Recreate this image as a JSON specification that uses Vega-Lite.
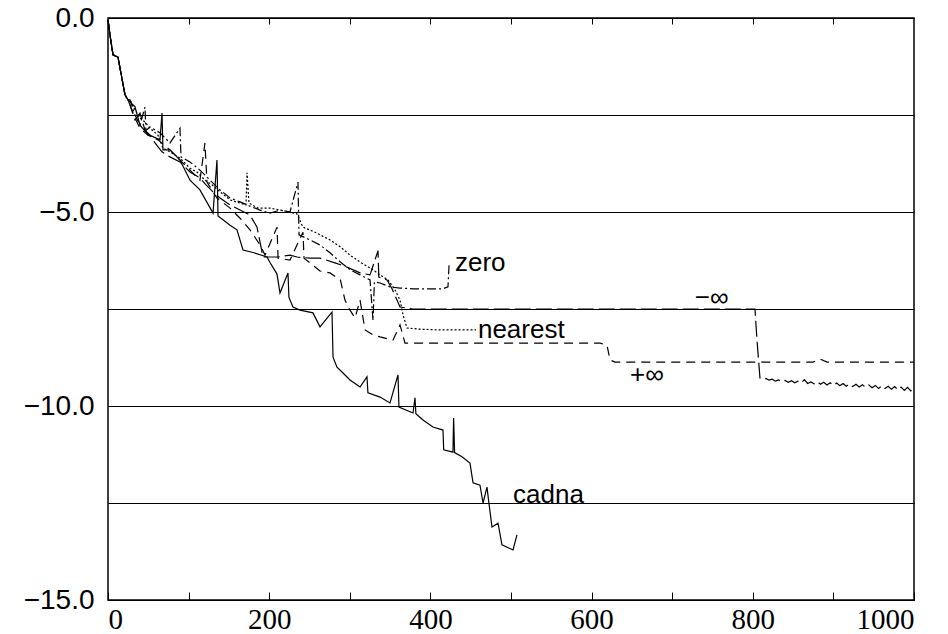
{
  "$schema": "https://vega.github.io/schema/vega-lite/v6.json",
  "autosize": "none",
  "width": 806,
  "height": 582,
  "padding": {"left": 108, "top": 18, "right": 34, "bottom": 34},
  "background": "white",
  "config": {
    "view": {"stroke": "black", "strokeWidth": 1.5},
    "axis": {"labelFont": "Liberation Sans", "labelColor": "black", "tickColor": "black", "tickWidth": 1, "domain": false, "title": null}
  },
  "layer": [
    {
      "data": {"values": [
        {"x":0,"y":-0.05},{"x":2.5,"y":-0.44},{"x":6.2,"y":-0.95},{"x":12.4,"y":-1.01},{"x":21.1,"y":-1.98},{"x":24.8,"y":-2.11},
        {"x":33.5,"y":-2.29},{"x":39.7,"y":-2.76},{"x":49.6,"y":-3.0},{"x":64.5,"y":-3.14},{"x":67,"y":-2.45},{"x":68.2,"y":-3.4},
        {"x":76.9,"y":-3.4},{"x":89.3,"y":-3.66},{"x":101.7,"y":-4.18},{"x":114.1,"y":-4.43},{"x":130.3,"y":-5.03},{"x":135.2,"y":-3.66},
        {"x":136.5,"y":-5.1},{"x":151.4,"y":-5.34},{"x":160,"y":-5.46},{"x":167.5,"y":-5.98},{"x":181.1,"y":-6.05},{"x":197.3,"y":-6.16},
        {"x":201,"y":-6.3},{"x":209.7,"y":-6.6},{"x":213.4,"y":-7.09},{"x":223.3,"y":-6.57},{"x":224.5,"y":-7.2},{"x":229.5,"y":-7.45},
        {"x":238.2,"y":-7.53},{"x":254.3,"y":-7.6},{"x":263,"y":-7.96},{"x":277.9,"y":-7.58},{"x":279.2,"y":-8.74},{"x":284.1,"y":-9.0},
        {"x":291.6,"y":-9.15},{"x":300.2,"y":-9.33},{"x":312.7,"y":-9.51},{"x":321.3,"y":-9.25},{"x":322.5,"y":-9.66},{"x":337.5,"y":-9.77},
        {"x":349.9,"y":-9.92},{"x":359.8,"y":-9.2},{"x":361,"y":-10.03},{"x":378.4,"y":-10.18},{"x":380.9,"y":-9.79},{"x":382,"y":-10.2},
        {"x":390.8,"y":-10.36},{"x":403.2,"y":-10.54},{"x":415.6,"y":-10.62},{"x":416.5,"y":-11.13},{"x":428,"y":-11.19},{"x":428.8,"y":-10.31},
        {"x":430,"y":-11.2},{"x":439.2,"y":-11.31},{"x":449.1,"y":-11.47},{"x":452.9,"y":-11.98},{"x":461.5,"y":-12.04},{"x":465.3,"y":-12.5},
        {"x":470.2,"y":-12.09},{"x":472,"y":-12.4},{"x":476.4,"y":-13.12},{"x":483.9,"y":-13.02},{"x":488.8,"y":-13.58},{"x":502.5,"y":-13.71},
        {"x":507.4,"y":-13.32}
      ]},
      "mark": {"type": "line", "color": "black", "strokeWidth": 1.2},
      "encoding": {
        "x": {"field": "x", "type": "quantitative", "scale": {"domain": [0, 1000], "nice": false},
              "axis": {"orient": "bottom", "values": [0,100,200,300,400,500,600,700,800,900,1000],
                       "labelExpr": "datum.value % 200 === 0 ? format(datum.value, 'd') : ''",
                       "tickSize": -8,
                       "labelPadding": 13, "labelFont": "Liberation Sans Narrow", "labelFontSize": 29, "grid": false}},
        "y": {"field": "y", "type": "quantitative", "scale": {"domain": [-15, 0], "nice": false},
              "axis": {"orient": "left", "values": [-15,-12.5,-10,-7.5,-5,-2.5,0],
                       "labelExpr": "datum.value % 5 === 0 ? format(datum.value, '.1f') : ''",
                       "tickSize": -6, "labelPadding": 20, "labelFontSize": 28,
                       "grid": true, "gridColor": "black", "gridWidth": 1, "gridOpacity": 1}}
      }
    },
    {
      "data": {"values": [
        {"x":0,"y":-0.05},{"x":2.5,"y":-0.44},{"x":6.2,"y":-0.95},{"x":12.4,"y":-1.01},{"x":21.1,"y":-1.98},{"x":24.8,"y":-2.11},
        {"x":27.3,"y":-2.11},{"x":33.5,"y":-2.37},{"x":39.7,"y":-2.58},{"x":45.9,"y":-2.68},{"x":52.1,"y":-2.84},{"x":62,"y":-3.02},
        {"x":68.2,"y":-3.35},{"x":76.9,"y":-3.45},{"x":89.3,"y":-3.61},{"x":101.7,"y":-3.87},{"x":110.4,"y":-3.97},{"x":120.3,"y":-4.18},
        {"x":129,"y":-4.3},{"x":139,"y":-4.48},{"x":151.4,"y":-4.69},{"x":163.8,"y":-4.77},{"x":171.2,"y":-4.82},{"x":172.5,"y":-3.99},
        {"x":174.9,"y":-4.77},{"x":186.1,"y":-4.9},{"x":201,"y":-4.9},{"x":213.4,"y":-4.95},{"x":225.8,"y":-5.0},{"x":234.5,"y":-5.05},
        {"x":241.9,"y":-5.39},{"x":256.8,"y":-5.52},{"x":275.4,"y":-5.72},{"x":288.3,"y":-5.9},{"x":300.2,"y":-6.11},{"x":312.7,"y":-6.29},
        {"x":325.1,"y":-6.44},{"x":337.5,"y":-6.62},{"x":347.4,"y":-6.75},{"x":356.1,"y":-7.01},{"x":362.3,"y":-7.27},{"x":366,"y":-7.65},
        {"x":371,"y":-7.99},{"x":387.1,"y":-8.02},{"x":411.9,"y":-8.04},{"x":436.7,"y":-8.04},{"x":456.6,"y":-8.04}
      ]},
      "mark": {"type": "line", "color": "black", "strokeWidth": 1.2, "strokeDash": [2, 2]},
      "encoding": {"x": {"field": "x", "type": "quantitative", "axis": null}, "y": {"field": "y", "type": "quantitative", "axis": null}}
    },
    {
      "data": {"values": [
        {"x":0,"y":-0.05},{"x":2.5,"y":-0.44},{"x":6.2,"y":-0.95},{"x":12.4,"y":-1.01},{"x":21.1,"y":-1.98},{"x":24.8,"y":-2.11},
        {"x":27.3,"y":-2.11},{"x":33.5,"y":-2.5},{"x":39.7,"y":-2.76},{"x":45.9,"y":-2.3},{"x":47,"y":-2.9},{"x":52.1,"y":-2.81},
        {"x":64.5,"y":-2.96},{"x":76.9,"y":-3.22},{"x":89.3,"y":-2.84},{"x":90.6,"y":-3.58},{"x":101.7,"y":-3.71},{"x":114.1,"y":-3.92},
        {"x":126.6,"y":-4.18},{"x":139,"y":-4.43},{"x":151.4,"y":-4.64},{"x":163.8,"y":-4.74},{"x":176.2,"y":-4.85},{"x":188.6,"y":-4.95},
        {"x":201,"y":-5.03},{"x":213.4,"y":-4.95},{"x":225.8,"y":-5.0},{"x":235.7,"y":-4.23},{"x":237,"y":-5.59},{"x":250.6,"y":-5.72},
        {"x":263,"y":-5.85},{"x":275.4,"y":-6.05},{"x":288.3,"y":-6.29},{"x":300.2,"y":-6.49},{"x":312.7,"y":-6.62},{"x":325.1,"y":-6.75},
        {"x":328.8,"y":-7.8},{"x":330.5,"y":-6.8},{"x":337.5,"y":-6.83},{"x":349.9,"y":-6.93},{"x":362.3,"y":-6.96},{"x":378.4,"y":-6.98},
        {"x":399.5,"y":-6.98},{"x":415.6,"y":-6.98},{"x":421.8,"y":-6.93},{"x":423.1,"y":-6.37}
      ]},
      "mark": {"type": "line", "color": "black", "strokeWidth": 1.2, "strokeDash": [9, 3, 2, 3]},
      "encoding": {"x": {"field": "x", "type": "quantitative", "axis": null}, "y": {"field": "y", "type": "quantitative", "axis": null}}
    },
    {
      "data": {"values": [
        {"x":0,"y":-0.05},{"x":2.5,"y":-0.44},{"x":6.2,"y":-0.95},{"x":12.4,"y":-1.01},{"x":21.1,"y":-1.98},{"x":24.8,"y":-2.11},
        {"x":27.3,"y":-2.24},{"x":33.5,"y":-2.63},{"x":39.7,"y":-2.45},{"x":45.9,"y":-2.89},{"x":52.1,"y":-3.02},{"x":58.3,"y":-3.22},
        {"x":67,"y":-3.45},{"x":76.9,"y":-3.58},{"x":89.3,"y":-3.71},{"x":101.7,"y":-3.97},{"x":114.1,"y":-4.12},{"x":121.6,"y":-4.3},
        {"x":130.3,"y":-4.48},{"x":139,"y":-4.64},{"x":151.4,"y":-4.82},{"x":163.8,"y":-4.95},{"x":176.2,"y":-5.08},{"x":184.9,"y":-5.39},
        {"x":192.3,"y":-6.16},{"x":210.9,"y":-6.16},{"x":225.8,"y":-6.11},{"x":234.5,"y":-6.16},{"x":250.6,"y":-6.19},{"x":263,"y":-6.19},
        {"x":281.6,"y":-6.31},{"x":296.5,"y":-6.42},{"x":312.7,"y":-6.57},{"x":325.1,"y":-6.62},{"x":335,"y":-6.0},{"x":336,"y":-6.68},
        {"x":346.2,"y":-6.75},{"x":352.4,"y":-6.98},{"x":362.3,"y":-7.45},{"x":378.4,"y":-7.5},{"x":500,"y":-7.5},{"x":600,"y":-7.5},
        {"x":700,"y":-7.5},{"x":802.7,"y":-7.5},{"x":805.2,"y":-8.3},{"x":808.9,"y":-9.28},
        {"x":812,"y":-9.31},{"x":816,"y":-9.29},{"x":820,"y":-9.33},{"x":824,"y":-9.31},{"x":828,"y":-9.36},{"x":832,"y":-9.33},
        {"x":836,"y":-9.37},{"x":840,"y":-9.34},{"x":844,"y":-9.39},{"x":848,"y":-9.35},{"x":852,"y":-9.4},{"x":856,"y":-9.36},
        {"x":860,"y":-9.41},{"x":864,"y":-9.32},{"x":868,"y":-9.42},{"x":872,"y":-9.38},{"x":876,"y":-9.43},{"x":880,"y":-9.37},
        {"x":884,"y":-9.44},{"x":888,"y":-9.39},{"x":892,"y":-9.46},{"x":896,"y":-9.4},{"x":900,"y":-9.47},{"x":904,"y":-9.41},
        {"x":908,"y":-9.48},{"x":912,"y":-9.42},{"x":916,"y":-9.49},{"x":920,"y":-9.43},{"x":924,"y":-9.5},{"x":928,"y":-9.44},
        {"x":932,"y":-9.51},{"x":936,"y":-9.45},{"x":940,"y":-9.52},{"x":944,"y":-9.46},{"x":948,"y":-9.53},{"x":952,"y":-9.47},
        {"x":956,"y":-9.55},{"x":960,"y":-9.48},{"x":964,"y":-9.55},{"x":968,"y":-9.49},{"x":972,"y":-9.57},{"x":976,"y":-9.5},
        {"x":980,"y":-9.58},{"x":984,"y":-9.51},{"x":988,"y":-9.6},{"x":992,"y":-9.52},{"x":996,"y":-9.61},{"x":1000,"y":-9.55}
      ]},
      "mark": {"type": "line", "color": "black", "strokeWidth": 1.2, "strokeDash": [16, 5]},
      "encoding": {"x": {"field": "x", "type": "quantitative", "axis": null}, "y": {"field": "y", "type": "quantitative", "axis": null}}
    },
    {
      "data": {"values": [
        {"x":0,"y":-0.05},{"x":2.5,"y":-0.44},{"x":6.2,"y":-0.95},{"x":12.4,"y":-1.01},{"x":21.1,"y":-1.98},{"x":24.8,"y":-2.11},
        {"x":27.3,"y":-2.24},{"x":33.5,"y":-2.58},{"x":39.7,"y":-2.84},{"x":49.6,"y":-3.02},{"x":62,"y":-3.14},{"x":76.9,"y":-3.4},
        {"x":89.3,"y":-3.66},{"x":101.7,"y":-3.92},{"x":114.1,"y":-4.18},{"x":120.3,"y":-3.22},{"x":122.8,"y":-4.23},{"x":135.2,"y":-4.64},
        {"x":151.4,"y":-4.9},{"x":163.8,"y":-5.16},{"x":176.2,"y":-5.46},{"x":188.6,"y":-5.85},{"x":194.8,"y":-6.11},{"x":209.7,"y":-5.39},
        {"x":211,"y":-6.19},{"x":225.8,"y":-6.24},{"x":241.9,"y":-5.52},{"x":243.2,"y":-6.19},{"x":250.6,"y":-6.31},{"x":263,"y":-6.52},
        {"x":275.4,"y":-6.57},{"x":288.3,"y":-6.75},{"x":294,"y":-7.27},{"x":300.2,"y":-7.53},{"x":306.5,"y":-7.73},{"x":312.7,"y":-7.27},
        {"x":318.9,"y":-8.04},{"x":328.8,"y":-8.17},{"x":337.5,"y":-8.22},{"x":353.6,"y":-8.3},{"x":362.3,"y":-7.91},{"x":368.5,"y":-8.38},
        {"x":387.1,"y":-8.38},{"x":500,"y":-8.38},{"x":610.4,"y":-8.38},{"x":619.1,"y":-8.43},{"x":622.8,"y":-8.81},{"x":629,"y":-8.87},
        {"x":734.5,"y":-8.87},{"x":874.7,"y":-8.87},{"x":883.4,"y":-8.79},{"x":892.1,"y":-8.87},{"x":1000,"y":-8.87}
      ]},
      "mark": {"type": "line", "color": "black", "strokeWidth": 1.2, "strokeDash": [9, 6]},
      "encoding": {"x": {"field": "x", "type": "quantitative", "axis": null}, "y": {"field": "y", "type": "quantitative", "axis": null}}
    },
    {
      "data": {"values": [
        {"x": 430.5, "y": -6.31, "label": "zero"},
        {"x": 459, "y": -8.04, "label": "nearest"},
        {"x": 647.6, "y": -9.2, "label": "+∞"},
        {"x": 728, "y": -7.22, "label": "−∞"},
        {"x": 502.5, "y": -12.29, "label": "cadna"}
      ]},
      "mark": {"type": "text", "align": "left", "baseline": "middle", "font": "Liberation Sans", "fontSize": 26, "color": "black"},
      "encoding": {
        "x": {"field": "x", "type": "quantitative",
              "axis": {"orient": "top", "values": [100,200,300,400,500,600,700,800,900],
                       "labels": false, "grid": false, "tickSize": 6, "offset": -6}},
        "y": {"field": "y", "type": "quantitative",
              "axis": {"orient": "right", "values": [-12.5,-10,-7.5,-5,-2.5], "labels": false, "grid": false, "tickSize": 6, "offset": -6}},
        "text": {"field": "label"}
      }
    }
  ],
  "resolve": {"axis": {"x": "independent", "y": "independent"}}
}
